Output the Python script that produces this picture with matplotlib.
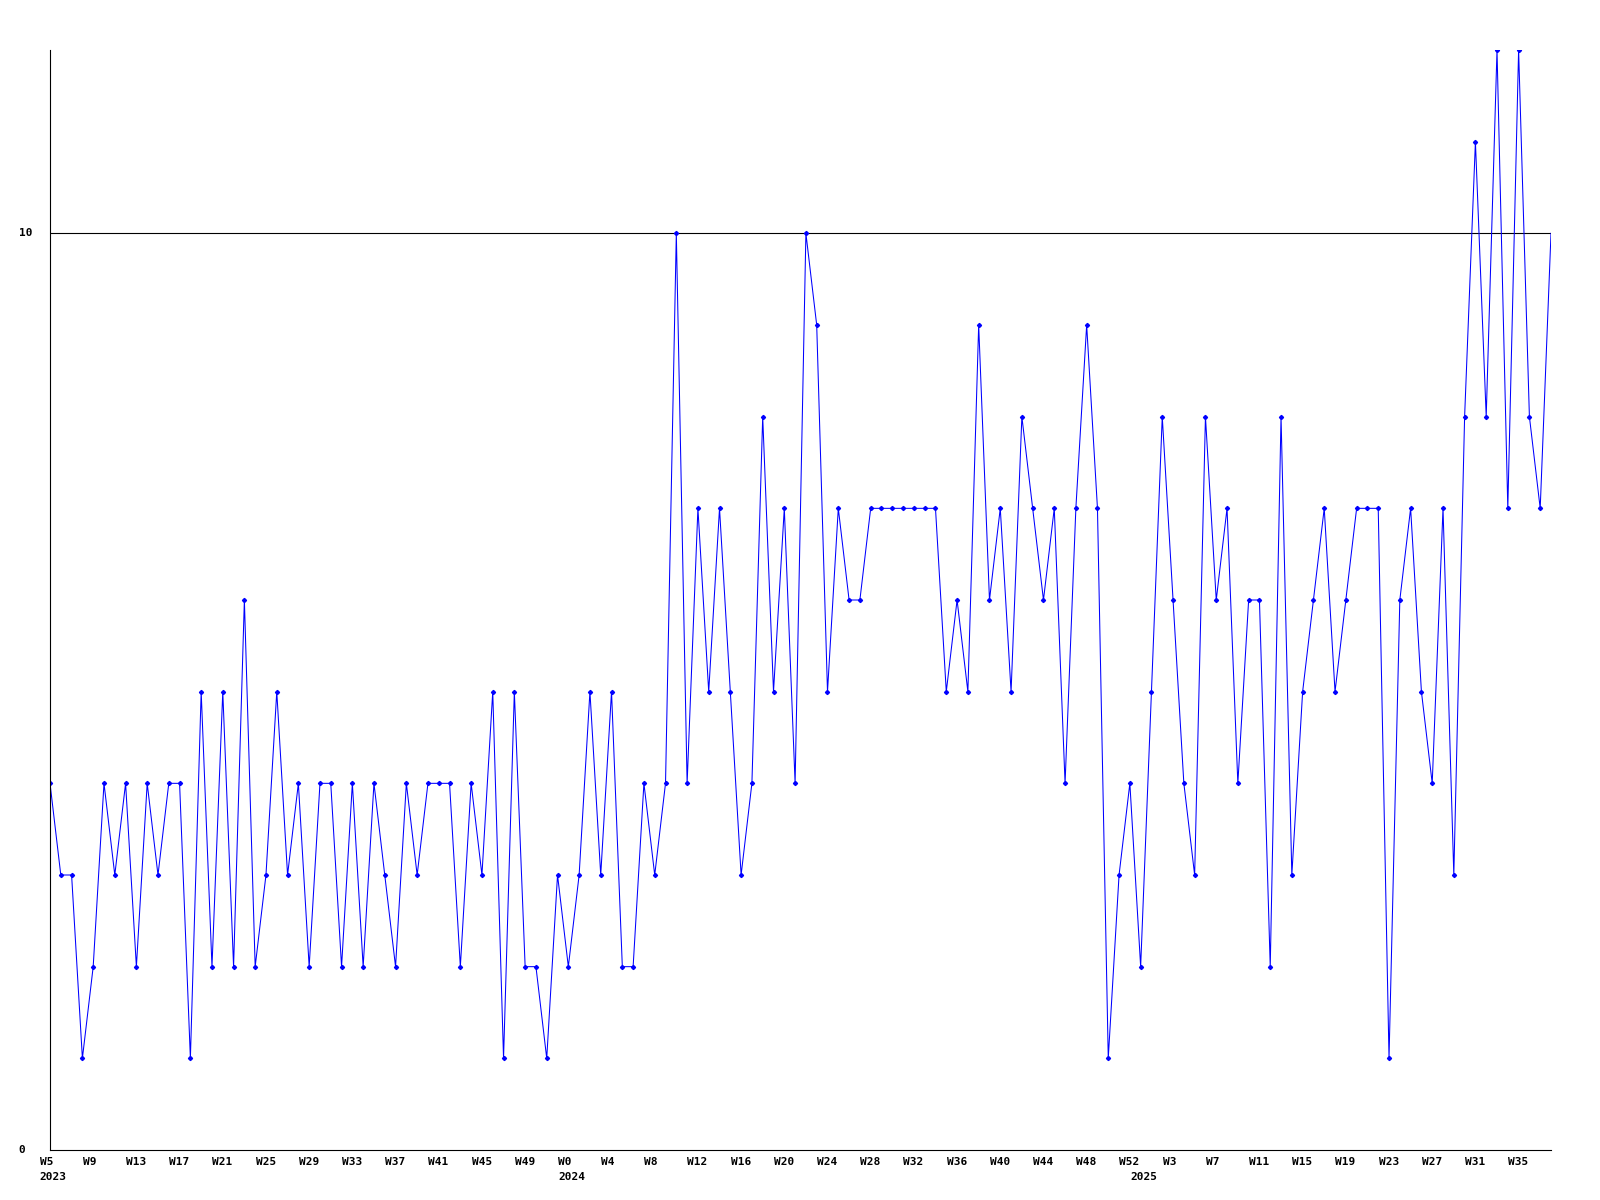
import matplotlib
matplotlib.use('Agg')
import matplotlib.pyplot as plt

# weekly counts, 2023 W5 -> 2025 W38
values = [4, 3, 3, 1, 2, 4, 3, 4, 2, 4, 3, 4, 4, 1, 5, 2, 5, 2, 6,
          2, 3, 5, 3, 4, 2, 4, 4, 2, 4, 2, 4, 3, 2, 4, 3, 4, 4, 4,
          2, 4, 3, 5, 1, 5, 2, 2, 1, 3, 2, 3, 5, 3, 5, 2, 2, 4,
          3, 4, 10, 4, 7, 5, 7, 5, 3, 4, 8, 5, 7, 4, 10, 9, 5, 7, 6,
          6, 7, 7, 7, 7, 7, 7, 7, 5, 6, 5, 9, 6, 7, 5, 8, 7, 6,
          7, 4, 7, 9, 7, 1, 3, 4, 2, 5, 8, 6, 4, 3, 8, 6, 7, 4, 6,
          6, 2, 8, 3, 5, 6, 7, 5, 6, 7, 7, 7, 1, 6, 7, 5, 4, 7,
          3, 8, 11, 8, 12, 7, 12, 8, 7, 10]

# one entry per year covered by the series
years = [2023, 2024, 2025]
first_weeks = [5, 0, 0]
week_counts = [48, 53, 39]

y_ticks = [0, 10]
y_max = 12
label_step = 4

# build week labels and where each year starts
week_labels = []
year_starts = []
for year, w0, n in zip(years, first_weeks, week_counts):
    year_starts.append(len(week_labels))
    week_labels += ['W{}'.format(w0 + k) for k in range(n)]

font = dict(family='DejaVu Sans Mono', weight='bold', size=8)

fig = plt.figure(figsize=(16, 12), dpi=100)
ax = fig.add_axes([50 / 1600, 50 / 1200, 1501 / 1600, 1100 / 1200])

x = list(range(len(values)))
ax.axhline(10, color='black', lw=0.8, zorder=1)
ax.plot(x, values, color='blue', lw=0.75, marker='D', ms=2.1,
        markevery=list(range(len(values) - 1)), zorder=2)

ax.set_xlim(0, len(values) - 1)
ax.set_ylim(0, y_max)
ax.set_xticks([])
ax.set_yticks([])
for side in ['top', 'right']:
    ax.spines[side].set_visible(False)
for side in ['left', 'bottom']:
    ax.spines[side].set_linewidth(0.8)
    ax.spines[side].set_color('black')

# y labels, left aligned
for v in y_ticks:
    ax.annotate(str(v), xy=(0, v), xycoords=('axes fraction', 'data'),
                xytext=(-22.5, 0), textcoords='offset points',
                ha='left', va='center', **font)

# week labels every 4 weeks
for i in range(0, len(values), label_step):
    ax.annotate(week_labels[i], xy=(i, 0), xycoords=('data', 'axes fraction'),
                xytext=(-7.5, -8.6), textcoords='offset points',
                ha='left', va='center', **font)

# year labels at the first week of each year
for year, i in zip(years, year_starts):
    ax.annotate(str(year), xy=(i, 0), xycoords=('data', 'axes fraction'),
                xytext=(-7.5, -19.5), textcoords='offset points',
                ha='left', va='center', **font)

fig.savefig('out.png', dpi=100)
